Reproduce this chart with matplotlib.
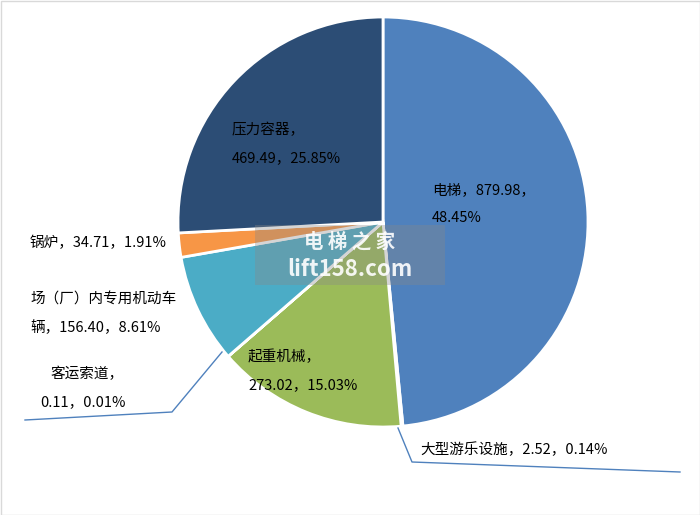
import matplotlib
matplotlib.use("Agg")
import matplotlib.pyplot as plt
from matplotlib.patches import Rectangle

categories = ["电梯", "大型游乐设施", "起重机械", "客运索道", "场（厂）内专用机动车辆", "锅炉", "压力容器"]
values = [879.98, 2.52, 273.02, 0.11, 156.40, 34.71, 469.49]
percents = ["48.45%", "0.14%", "15.03%", "0.01%", "8.61%", "1.91%", "25.85%"]
colors = ["#4F81BD", "#7F9FCF", "#9BBB59", "#8064A2", "#4BACC6", "#F79646", "#2C4D75"]

plt.rcParams["font.family"] = ["Noto Sans CJK SC", "DejaVu Sans"]
W, H = 700, 515
fig = plt.figure(figsize=(7, 5.15), dpi=100)
ax = fig.add_axes([0, 0, 1, 1])

cx, cy, r = 383, H - 222, 205
ax.pie(values, colors=colors, startangle=90, counterclock=False, center=(cx, cy), radius=r,
       wedgeprops=dict(edgecolor="white", linewidth=2), frame=True)
ax.set_xlim(0, W); ax.set_ylim(0, H); ax.set_aspect("equal"); ax.axis("off")

def Y(py): return H - py
fs = 10.5
def lab(x, y, s):
    ax.text(x, Y(y), s, fontsize=fs, va="center", ha="left", color="#000000")

lab(232, 130, "压力容器，"); lab(232, 158, f"{values[6]:.2f}，{percents[6]}")
lab(432, 190, f"电梯，{values[0]:.2f}，"); lab(432, 218, percents[0])
lab(30, 243, f"锅炉，{values[5]:.2f}，{percents[5]}")
lab(30, 300, "场（厂）内专用机动车"); lab(30, 328, f"辆，{values[4]:.2f}，{percents[4]}")
lab(50, 374, "客运索道，"); lab(40, 402, f"{values[3]:.2f}，{percents[3]}")
lab(248, 357, "起重机械，"); lab(248, 385, f"{values[2]:.2f}，{percents[2]}")
lab(420, 450, f"大型游乐设施，{values[1]:.2f}，{percents[1]}")

lc = "#4F81BD"
ax.plot([222, 172, 25], [Y(352), Y(412), Y(420)], color=lc, lw=1)
ax.plot([398, 412, 680], [Y(428), Y(462), Y(472)], color=lc, lw=1)

ax.add_patch(Rectangle((255, Y(285)), 190, 60, facecolor="#888888", alpha=0.35, edgecolor="none"))
ax.text(350, Y(242), "电 梯 之 家", fontsize=14, color="white", ha="center", va="center", fontweight="bold", alpha=0.9)
ax.text(350, Y(270), "lift158.com", fontsize=16, color="white", ha="center", va="center", fontweight="bold", alpha=0.9)

ax.add_patch(Rectangle((0.5, 0.5), W - 1, H - 1, fill=False, edgecolor="#D9D9D9", lw=1))
fig.savefig("out.png", dpi=100)
